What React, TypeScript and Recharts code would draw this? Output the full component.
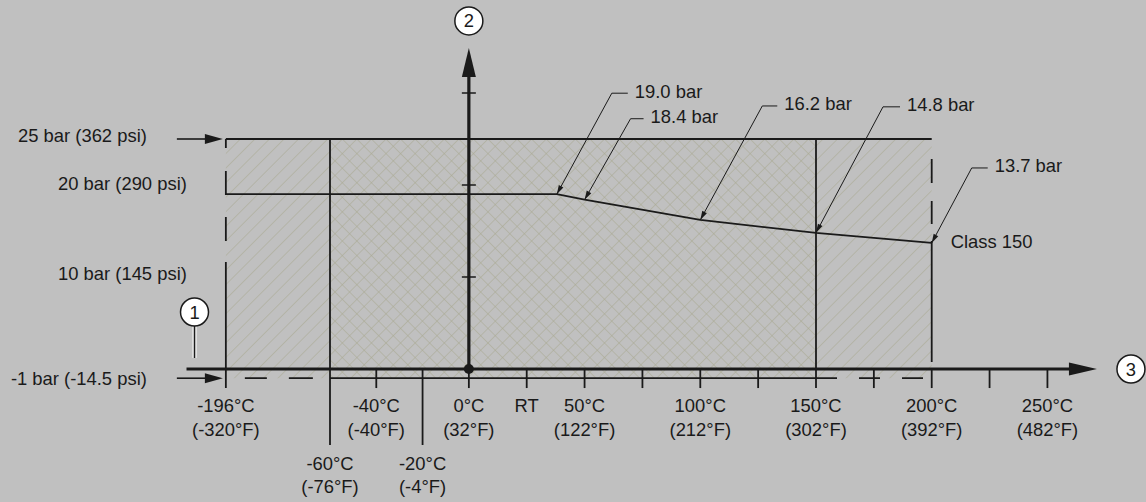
import React from "react";
import {
  ComposedChart,
  Line,
  XAxis,
  YAxis,
  ReferenceArea,
  ReferenceLine,
  ReferenceDot,
} from "recharts";

const INK = "#1a1a1a";
const HATCH = "#a9a992";
const BG = "#c0c0c0";
const FONT = "'Liberation Sans', Arial, Helvetica, sans-serif";

// below -60 °C the temperature axis is broken (compressed)
const BREAK_AT = -60;
const BREAK_SCALE = 45 / 136;
const axisPos = (t: number) =>
  t < BREAK_AT ? BREAK_AT + (t - BREAK_AT) * BREAK_SCALE : t;

// Class 150 rating curve
const curveTemps = [-196, 38, 50, 100, 150, 200];
const curveBar = [19.0, 19.0, 18.4, 16.2, 14.8, 13.7];
const calloutText = ["19.0 bar", "18.4 bar", "16.2 bar", "14.8 bar", "13.7 bar"];

// temperature labels
const upperC = [-196, -40, 0, 50, 100, 150, 200, 250];
const upperF = [-320, -40, 32, 122, 212, 302, 392, 482];
const lowerC = [-60, -20];
const lowerF = [-76, -4];
const tickTemps = [-40, 0, 25, 50, 75, 100, 125, 175, 225, 250];

// pressure labels
const pressureBar = [25, 20, 10, -1];
const pressureText = ["25 bar (362 psi)", "20 bar (290 psi)", "10 bar (145 psi)", "-1 bar (-14.5 psi)"];
const yAxisTicks = [10, 20, 30];

// zones
const T_MIN = -196;
const T_COLD = -60;
const T_HOT = 150;
const T_MAX = 200;
const BAR_MAX = 25;
const BAR_MIN = -1;

// axis geometry (data units)
const X_START = -122;
const X_TIP = 271.4;
const Y_TIP = 34.9;
const TICK_END = -2.07;
const LONG_TICK_END = -8.26;

const curveData = curveTemps.map((t, i) => ({ x: axisPos(t), p: curveBar[i] }));

// leader offsets in px: elbow dx, dy, shelf length
const calloutGeom = [
  { dx: 55, dy: -101, shelf: 16 },
  { dx: 46, dy: -81, shelf: 13 },
  { dx: 62, dy: -114, shelf: 15 },
  { dx: 67, dy: -126, shelf: 17 },
  { dx: 40, dy: -75, shelf: 16 },
];

const arrowPts = (tx: number, ty: number, fx: number, fy: number, len: number, half: number) => {
  const dx = tx - fx;
  const dy = ty - fy;
  const d = Math.hypot(dx, dy);
  const ux = dx / d;
  const uy = dy / d;
  const bx = tx - ux * len;
  const by = ty - uy * len;
  return `${tx},${ty} ${bx - uy * half},${by + ux * half} ${bx + uy * half},${by - ux * half}`;
};

const txt = { fontFamily: FONT, fontSize: 18.4, fill: INK } as const;

const Circled = ({ x, y, n }: { x: number; y: number; n: string }) => (
  <g>
    <circle cx={x} cy={y} r={14} fill="#fff" stroke={INK} strokeWidth={1.5} />
    <text x={x} y={y + 6.5} textAnchor="middle" {...txt}>
      {n}
    </text>
  </g>
);

export default function App() {
  return (
    <div style={{ width: 1146, height: 502, background: BG }}>
      <style>{`body{margin:0;background:${BG}}`}</style>
      <ComposedChart
        width={1146}
        height={502}
        data={curveData}
        margin={{ top: 1, right: 6, bottom: 4.2, left: 6 }}
      >
        <defs>
          <pattern id="hatch" patternUnits="userSpaceOnUse" width={10.3} height={10.3} patternTransform="rotate(45)">
            <line x1={0} y1={0} x2={0} y2={10.3} stroke={HATCH} strokeWidth={1.05} />
          </pattern>
          <pattern id="cross" patternUnits="userSpaceOnUse" width={10.3} height={10.3} patternTransform="rotate(45)">
            <line x1={0} y1={0} x2={0} y2={10.3} stroke={HATCH} strokeWidth={1.05} />
            <line x1={0} y1={0} x2={10.3} y2={0} stroke={HATCH} strokeWidth={1.05} />
          </pattern>
        </defs>
        <XAxis type="number" dataKey="x" domain={[-200, 290]} hide allowDataOverflow />
        <YAxis type="number" domain={[-14, 40]} hide allowDataOverflow />

        <ReferenceArea x1={axisPos(T_MIN)} x2={T_COLD} y1={BAR_MIN} y2={BAR_MAX} fill="url(#hatch)" fillOpacity={1} stroke="none" />
        <ReferenceArea x1={T_COLD} x2={T_HOT} y1={BAR_MIN} y2={BAR_MAX} fill="url(#cross)" fillOpacity={1} stroke="none" />
        <ReferenceArea x1={T_HOT} x2={T_MAX} y1={BAR_MIN} y2={BAR_MAX} fill="url(#hatch)" fillOpacity={1} stroke="none" />

        {/* zone outline */}
        <ReferenceLine segment={[{ x: axisPos(T_MIN), y: BAR_MAX }, { x: T_MAX, y: BAR_MAX }]} stroke={INK} strokeWidth={1.8} />
        <ReferenceLine segment={[{ x: axisPos(T_MIN), y: BAR_MAX }, { x: axisPos(T_MIN), y: TICK_END }]} stroke={INK} strokeWidth={1.8} strokeDasharray="9 23 24 22 24 21 300" />
        <ReferenceLine segment={[{ x: T_MAX, y: BAR_MAX }, { x: T_MAX, y: 0.76 }]} stroke={INK} strokeWidth={1.8} strokeDasharray="0 20 24 18 23 17 300" />
        <ReferenceLine segment={[{ x: T_COLD, y: BAR_MAX }, { x: T_COLD, y: LONG_TICK_END }]} stroke={INK} strokeWidth={1.8} />
        <ReferenceLine segment={[{ x: T_HOT, y: BAR_MAX }, { x: T_HOT, y: TICK_END }]} stroke={INK} strokeWidth={1.8} />
        <ReferenceLine segment={[{ x: -20, y: 0 }, { x: -20, y: LONG_TICK_END }]} stroke={INK} strokeWidth={1.8} />
        <ReferenceLine segment={[{ x: T_MAX, y: 0 }, { x: T_MAX, y: TICK_END }]} stroke={INK} strokeWidth={1.8} />

        {/* -1 bar line */}
        <ReferenceLine segment={[{ x: axisPos(T_MIN), y: BAR_MIN }, { x: T_COLD, y: BAR_MIN }]} stroke={INK} strokeWidth={1.8} strokeDasharray="0 19 22 22 24 100" />
        <ReferenceLine segment={[{ x: T_COLD, y: BAR_MIN }, { x: T_HOT, y: BAR_MIN }]} stroke={INK} strokeWidth={1.8} />
        <ReferenceLine segment={[{ x: T_HOT, y: BAR_MIN }, { x: T_MAX, y: BAR_MIN }]} stroke={INK} strokeWidth={1.8} strokeDasharray="21 22" />

        {tickTemps.map((t) => (
          <ReferenceLine key={`tk${t}`} segment={[{ x: t, y: 0 }, { x: t, y: TICK_END }]} stroke={INK} strokeWidth={1.8} />
        ))}
        {yAxisTicks.map((p) => (
          <ReferenceDot key={`yt${p}`} x={0} y={p} r={0} shape={({ cx, cy }: any) => (
            <line x1={cx - 7} x2={cx + 7} y1={cy} y2={cy} stroke={INK} strokeWidth={1.5} />
          )} />
        ))}

        <Line type="linear" dataKey="p" stroke={INK} strokeWidth={1.8} dot={false} isAnimationActive={false} />

        {/* main axes */}
        <ReferenceLine segment={[{ x: X_START, y: 0 }, { x: X_TIP - 10, y: 0 }]} stroke={INK} strokeWidth={3.2} />
        <ReferenceLine segment={[{ x: 0, y: 0 }, { x: 0, y: Y_TIP - 3 }]} stroke={INK} strokeWidth={3.2} />
        <ReferenceDot x={X_TIP} y={0} r={0} shape={({ cx, cy }: any) => (
          <g>
            <polygon points={`${cx},${cy} ${cx - 28},${cy - 6.5} ${cx - 28},${cy + 6.5}`} fill={INK} />
            <Circled x={cx + 34} y={cy} n="3" />
          </g>
        )} />
        <ReferenceDot x={0} y={Y_TIP} r={0} shape={({ cx, cy }: any) => (
          <g>
            <polygon points={`${cx},${cy} ${cx - 7},${cy + 29} ${cx + 7},${cy + 29}`} fill={INK} />
            <Circled x={cx} y={cy - 27} n="2" />
          </g>
        )} />
        <ReferenceDot x={X_START} y={0} r={0} shape={({ cx, cy }: any) => (
          <g>
            <line x1={cx + 8} x2={cx + 8} y1={cy - 43} y2={cy - 11} stroke="#fff" strokeWidth={4} />
            <line x1={cx + 8} x2={cx + 8} y1={cy - 43} y2={cy - 11} stroke={INK} strokeWidth={1.6} />
            <Circled x={cx + 8} y={cy - 57} n="1" />
          </g>
        )} />
        <ReferenceDot x={0} y={0} r={5} fill={INK} stroke="none" />

        {/* pressure labels */}
        {pressureBar.map((p, i) => {
          const withArrow = p === BAR_MAX || p === BAR_MIN;
          return (
            <ReferenceDot key={`pl${p}`} x={axisPos(T_MIN)} y={p} r={0} shape={({ cx, cy }: any) => (
              <g>
                <text x={cx - (withArrow ? 79 : 39)} y={cy + (p === BAR_MIN ? 6.5 : p === 20 ? 4.5 : 2.5)} textAnchor="end" {...txt}>
                  {pressureText[i]}
                </text>
                {withArrow && (
                  <g>
                    <line x1={cx - 49} x2={cx - 20} y1={cy} y2={cy} stroke={INK} strokeWidth={1.6} />
                    <polygon points={`${cx - 3},${cy} ${cx - 21},${cy - 5} ${cx - 21},${cy + 5}`} fill={INK} />
                  </g>
                )}
              </g>
            )} />
          );
        })}

        {/* temperature labels */}
        {upperC.map((t, i) => (
          <ReferenceDot key={`ul${t}`} x={axisPos(t)} y={0} r={0} shape={({ cx, cy }: any) => (
            <g>
              <text x={cx} y={cy + 43} textAnchor="middle" {...txt}>{`${t}°C`}</text>
              <text x={cx} y={cy + 67} textAnchor="middle" {...txt}>{`(${upperF[i]}°F)`}</text>
            </g>
          )} />
        ))}
        {lowerC.map((t, i) => (
          <ReferenceDot key={`ll${t}`} x={t} y={0} r={0} shape={({ cx, cy }: any) => (
            <g>
              <text x={cx} y={cy + 101} textAnchor="middle" {...txt}>{`${t}°C`}</text>
              <text x={cx} y={cy + 124} textAnchor="middle" {...txt}>{`(${lowerF[i]}°F)`}</text>
            </g>
          )} />
        ))}
        <ReferenceDot x={25} y={0} r={0} shape={({ cx, cy }: any) => (
          <text x={cx} y={cy + 43} textAnchor="middle" {...txt}>RT</text>
        )} />

        {/* callouts */}
        {calloutText.map((label, i) => {
          const g = calloutGeom[i];
          return (
            <ReferenceDot key={`co${i}`} x={axisPos(curveTemps[i + 1])} y={curveBar[i + 1]} r={0} shape={({ cx, cy }: any) => (
              <g>
                <polyline
                  points={`${cx},${cy} ${cx + g.dx},${cy + g.dy} ${cx + g.dx + g.shelf},${cy + g.dy}`}
                  fill="none"
                  stroke={INK}
                  strokeWidth={1}
                />
                <polygon points={arrowPts(cx, cy, cx + g.dx, cy + g.dy, 9, 2.6)} fill={INK} />
                <text x={cx + g.dx + g.shelf + 7} y={cy + g.dy + 4.5} {...txt}>{label}</text>
              </g>
            )} />
          );
        })}
        <ReferenceDot x={T_MAX} y={curveBar[curveBar.length - 1]} r={0} shape={({ cx, cy }: any) => (
          <text x={cx + 19} y={cy + 5.5} {...txt}>Class 150</text>
        )} />
      </ComposedChart>
    </div>
  );
}
